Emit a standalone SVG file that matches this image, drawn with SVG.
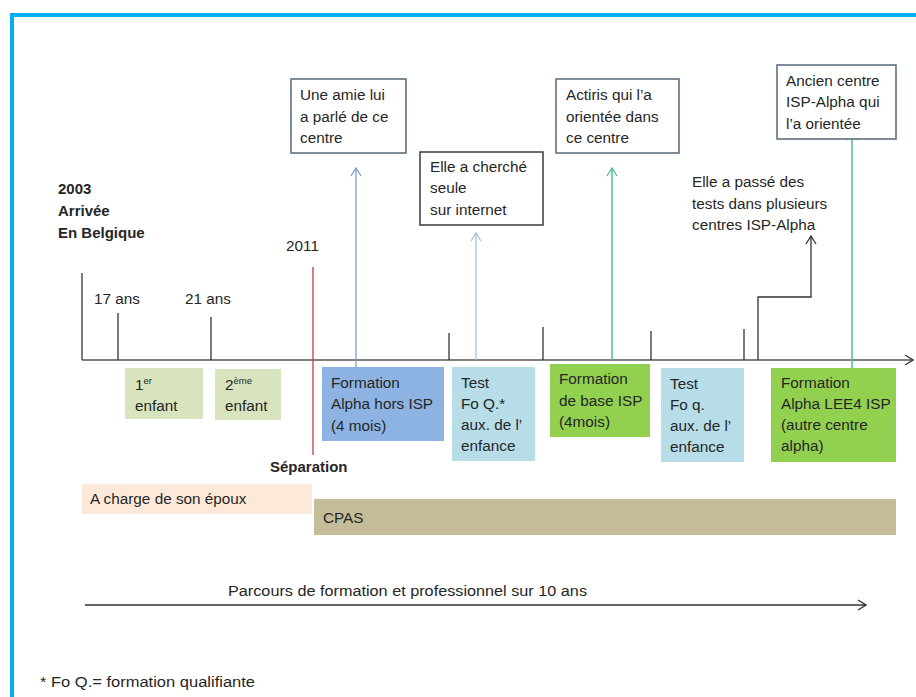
<svg xmlns="http://www.w3.org/2000/svg" width="916" height="697" viewBox="0 0 916 697">
  <defs>
    <style>
      text { font-family: "Liberation Sans", Arial, sans-serif; font-size: 15.3px; fill: #262626; }
      .b { font-weight: bold; font-size: 15px; }
      .sup { font-size: 9.5px; }
      .note { fill: #ffffff; stroke: #55677a; stroke-width: 1.5; }
      .tick { stroke: #333333; stroke-width: 1.3; fill: none; }
    </style>
    <marker id="open" viewBox="0 0 10 12" refX="9" refY="6" markerWidth="10" markerHeight="12" markerUnits="userSpaceOnUse" orient="auto">
      <path d="M1,1 L9,6 L1,11" fill="none" stroke="context-stroke" stroke-width="1.3"/>
    </marker>
    <marker id="head" viewBox="0 0 10 12" refX="9" refY="6" markerWidth="10" markerHeight="12" markerUnits="userSpaceOnUse" orient="auto">
      <path d="M1,1 L9,6 L1,11" fill="none" stroke="#333333" stroke-width="1.3"/>
    </marker>
  </defs>

  <rect width="916" height="697" fill="#ffffff"/>
  <!-- outer frame -->
  <rect x="12" y="15" width="920" height="700" fill="none" stroke="#00b0f0" stroke-width="4"/>

  <!-- connectors: time axis, ticks and pointers -->
  <g id="connectors">
    <line x1="82" y1="360" x2="913" y2="360" stroke="#555555" stroke-width="1.4" marker-end="url(#head)"/>
    <line class="tick" x1="82" y1="273" x2="82" y2="360"/>
    <line class="tick" x1="118" y1="313" x2="118" y2="360"/>
    <line class="tick" x1="211" y1="317" x2="211" y2="360"/>
    <line x1="313" y1="267" x2="313" y2="455" stroke="#c0394b" stroke-width="1.3"/>
    <line x1="356" y1="372" x2="356" y2="168" stroke="#7f9fc8" stroke-width="1.3" marker-end="url(#open)"/>
    <line class="tick" x1="449" y1="333" x2="449" y2="360"/>
    <line x1="476" y1="360" x2="476" y2="233" stroke="#a2c3e0" stroke-width="1.3" marker-end="url(#open)"/>
    <line class="tick" x1="543" y1="327" x2="543" y2="360"/>
    <line x1="612" y1="360" x2="612" y2="168" stroke="#4fbf8c" stroke-width="1.5" marker-end="url(#open)"/>
    <line class="tick" x1="651" y1="331" x2="651" y2="360"/>
    <line class="tick" x1="744" y1="329" x2="744" y2="360"/>
    <polyline points="758,360 758,297 811,297 811,236" stroke="#333333" stroke-width="1.3" fill="none" marker-end="url(#open)"/>
    <line x1="852" y1="368" x2="852" y2="132" stroke="#4fbf8c" stroke-width="1.5" marker-end="url(#open)"/>
    <!-- duration arrow -->
    <line x1="85" y1="605" x2="866" y2="605" stroke="#333333" stroke-width="1.3" marker-end="url(#head)"/>
  </g>

  <!-- milestones on the axis -->
  <g id="arrivee">
    <text class="b" x="58" y="194">2003</text>
    <text class="b" x="58" y="216">Arrivée</text>
    <text class="b" x="58" y="238">En Belgique</text>
  </g>
  <g id="age17"><text x="94" y="304">17 ans</text></g>
  <g id="age21"><text x="185" y="304">21 ans</text></g>
  <g id="annee2011"><text x="286" y="251">2011</text></g>
  <g id="separation"><text class="b" x="270" y="472">Séparation</text></g>

  <!-- how she was oriented -->
  <g id="amie">
    <rect class="note" x="291" y="79" width="115" height="74"/>
    <text x="300" y="100">Une amie lui</text>
    <text x="300" y="122">a parlé de ce</text>
    <text x="300" y="143">centre</text>
  </g>
  <g id="internet">
    <rect class="note" x="420" y="152" width="123" height="73" style="stroke:#3a3a3a"/>
    <text x="430" y="172">Elle a cherché</text>
    <text x="430" y="193">seule</text>
    <text x="430" y="215">sur internet</text>
  </g>
  <g id="actiris">
    <rect class="note" x="556" y="79" width="123" height="74"/>
    <text x="566" y="100">Actiris qui l’a</text>
    <text x="566" y="122">orientée dans</text>
    <text x="566" y="143">ce centre</text>
  </g>
  <g id="tests">
    <text x="692" y="187">Elle a passé des</text>
    <text x="692" y="209">tests dans plusieurs</text>
    <text x="692" y="230">centres ISP-Alpha</text>
  </g>
  <g id="ancien">
    <rect class="note" x="777" y="65" width="119" height="74"/>
    <text x="786" y="86">Ancien centre</text>
    <text x="786" y="107">ISP-Alpha qui</text>
    <text x="786" y="129">l’a orientée</text>
  </g>

  <!-- life events and trainings -->
  <g id="enfant1">
    <rect x="125" y="368" width="78" height="51" fill="#d7e4bd"/>
    <text x="135" y="390">1<tspan class="sup" dy="-6">er</tspan></text>
    <text x="135" y="411">enfant</text>
  </g>
  <g id="enfant2">
    <rect x="215" y="369" width="66" height="51" fill="#d7e4bd"/>
    <text x="225" y="390">2<tspan class="sup" dy="-6">ème</tspan></text>
    <text x="225" y="411">enfant</text>
  </g>
  <g id="alpha-hors-isp">
    <rect x="322" y="367" width="122" height="74" fill="#8db3e2"/>
    <text x="331" y="388">Formation</text>
    <text x="331" y="409">Alpha hors ISP</text>
    <text x="331" y="431">(4 mois)</text>
  </g>
  <g id="test1">
    <rect x="452" y="367" width="83" height="94" fill="#b7dde8"/>
    <text x="461" y="388">Test</text>
    <text x="461" y="409">Fo Q.*</text>
    <text x="461" y="430">aux. de l’</text>
    <text x="461" y="451">enfance</text>
  </g>
  <g id="base-isp">
    <rect x="550" y="364" width="100" height="73" fill="#92d050"/>
    <text x="559" y="384">Formation</text>
    <text x="559" y="406">de base ISP</text>
    <text x="559" y="427">(4mois)</text>
  </g>
  <g id="test2">
    <rect x="661" y="368" width="83" height="94" fill="#b7dde8"/>
    <text x="670" y="389">Test</text>
    <text x="670" y="410">Fo q.</text>
    <text x="670" y="431">aux. de l’</text>
    <text x="670" y="452">enfance</text>
  </g>
  <g id="alpha-lee4">
    <rect x="771" y="368" width="125" height="94" fill="#92d050"/>
    <text x="781" y="388">Formation</text>
    <text x="781" y="409">Alpha LEE4 ISP</text>
    <text x="781" y="430">(autre centre</text>
    <text x="781" y="451">alpha)</text>
  </g>

  <!-- income sources -->
  <g id="epoux">
    <rect x="82" y="484" width="230" height="30" fill="#fde9d9"/>
    <text x="90" y="504">A charge de son époux</text>
  </g>
  <g id="cpas">
    <rect x="314" y="499" width="582" height="36" fill="#c4bd97"/>
    <text x="323" y="523">CPAS</text>
  </g>

  <g id="duree"><text x="228" y="596" textLength="359" lengthAdjust="spacingAndGlyphs">Parcours de formation et professionnel sur 10 ans</text></g>
  <g id="footnote"><text x="40" y="687" textLength="215" lengthAdjust="spacingAndGlyphs">* Fo Q.= formation qualifiante</text></g>
</svg>
